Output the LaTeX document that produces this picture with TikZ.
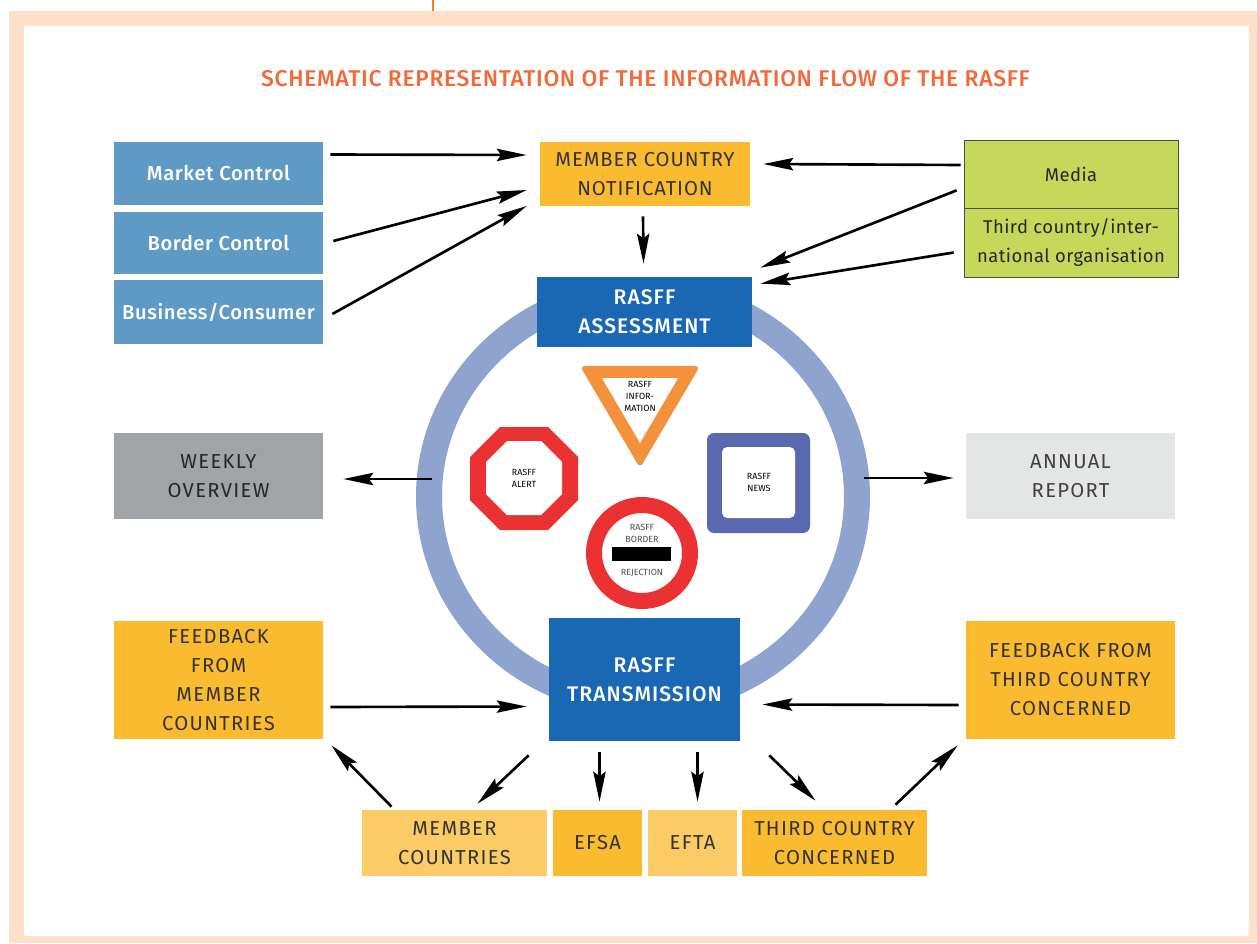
\documentclass[tikz,border=0pt]{standalone}
\usepackage{fontspec}
\setmainfont{Fira Sans}
\newfontfamily\capsfont[LetterSpace=6.5]{Fira Sans}
\newfontfamily\noticefont[LetterSpace=4.5]{Fira Sans}
\newfontfamily\whitefont[LetterSpace=5]{Fira Sans Medium}
\newfontfamily\blueboxfont[LetterSpace=2.8]{Fira Sans Medium}
\newfontfamily\greenfont[LetterSpace=2.5]{Fira Sans}
\newfontfamily\headfont[LetterSpace=2.9]{Fira Sans Medium}
\usetikzlibrary{arrows.meta}
\definecolor{framepeach}{HTML}{FDE0CA}
\definecolor{titleorange}{HTML}{F26A3A}
\definecolor{ticker}{HTML}{F08030}
\definecolor{steelblue}{HTML}{5F9AC4}
\definecolor{deepblue}{HTML}{1A67B3}
\definecolor{ringblue}{HTML}{8FA3CF}
\definecolor{amber}{HTML}{FBBB30}
\definecolor{paleamber}{HTML}{FBCB66}
\definecolor{leaf}{HTML}{C6D85A}
\definecolor{midgrey}{HTML}{A1A4A7}
\definecolor{palegrey}{HTML}{E4E6E6}
\definecolor{signred}{HTML}{EB3233}
\definecolor{signorange}{HTML}{F4923B}
\definecolor{signblue}{HTML}{5A68B0}
\tikzset{
  infobox/.style = {
    rectangle,
    inner sep=0pt,
    align=center,
    font={\capsfont\fontsize{11.5}{16.5}\selectfont}
  },
  bluebox/.style = {
    infobox,
    fill=steelblue,
    text=white,
    font={\blueboxfont\fontsize{11.5}{16.5}\selectfont}
  },
  mainbox/.style = {
    infobox,
    fill=deepblue,
    text=white,
    font={\whitefont\fontsize{12}{16.5}\selectfont}
  },
  amberbox/.style = {
    infobox,
    fill=amber,
    text=black!80
  },
  paleamberbox/.style = {
    infobox,
    fill=paleamber,
    text=black!80
  },
  greenbox/.style = {
    infobox,
    fill=leaf,
    draw=black!70,
    line width=0.4pt,
    text=black!85,
    font={\greenfont\fontsize{10.5}{16.5}\selectfont}
  },
  signtext/.style = {
    inner sep=0pt,
    align=center,
    font={\fontsize{5.1}{6.8}\selectfont}
  },
  flow/.style = {
    line width=1.5pt,
    -{Stealth[length=17pt,width=7pt,inset=2.5pt]}
  }
}
\newcommand{\infonode}[7]{%
  \node[#2,minimum width=#5*0.02cm-#3*0.02cm,minimum height=#6*0.02cm-#4*0.02cm]
    (#1) at ({(#3+#5)/2},{(#4+#6)/2}) {#7};
}

\begin{document}
\begin{tikzpicture}[x=0.02cm,y=-0.02cm]

  \useasboundingbox (0,0) rectangle (1257,943);

  % frame
  \fill[framepeach] (9,11) rectangle (1257,943);
  \fill[white] (24,26) rectangle (1249,936);
  \draw[ticker,line width=1pt] (433,0) -- (433,11);

  \node[inner sep=0pt,text=titleorange,font={\headfont\fontsize{13}{15}\selectfont}] (title) at (645.5,79)
    {SCHEMATIC REPRESENTATION OF THE INFORMATION FLOW OF THE RASFF};

  % ring
  \fill[ringblue,even odd rule] (643,496.5) ellipse [x radius=227,y radius=219]
    (643,496.5) ellipse [x radius=201,y radius=193];

  % left and top boxes
  \infonode{market}{bluebox}{114}{142}{323}{205}{Market Control}
  \infonode{border}{bluebox}{114}{212}{323}{274}{Border Control}
  \infonode{business}{bluebox}{114}{280}{323}{344}{Business/Consumer}
  \infonode{notification}{amberbox,font={\noticefont\fontsize{11.5}{16.5}\selectfont}}{540}{142}{750}{206}{MEMBER COUNTRY\\NOTIFICATION}
  \infonode{media}{greenbox}{964}{140}{1178}{208}{Media}
  \infonode{thirdorg}{greenbox}{964}{208}{1178}{277}{Third country/inter-\\national organisation}
  \infonode{assessment}{mainbox}{537}{277}{752}{347}{RASFF\\ASSESSMENT}

  % middle row
  \infonode{weekly}{infobox,fill=midgrey,text=black!85}{114}{433}{323}{519}{WEEKLY\\OVERVIEW}
  \infonode{annual}{infobox,fill=palegrey,text=black!75}{966}{433}{1175}{519}{ANNUAL\\REPORT}

  % lower boxes
  \infonode{feedbackmember}{amberbox}{114}{621}{323}{739}{FEEDBACK\\FROM\\MEMBER\\COUNTRIES}
  \infonode{feedbackthird}{amberbox}{966}{621}{1175}{739}{FEEDBACK FROM\\THIRD COUNTRY\\CONCERNED}
  \infonode{transmission}{mainbox}{549}{618}{740}{741}{RASFF\\TRANSMISSION}
  \infonode{members}{paleamberbox}{362}{810}{547}{876}{MEMBER\\COUNTRIES}
  \infonode{efsa}{amberbox}{553}{810}{642}{876}{EFSA}
  \infonode{efta}{paleamberbox}{648}{810}{737}{876}{EFTA}
  \infonode{thirdcountry}{amberbox}{742}{810}{927}{876}{THIRD COUNTRY\\CONCERNED}

  % signs
  \fill[signorange,rounded corners=3pt] (580,366) -- (700,366) -- (640,468) -- cycle;
  \fill[white] (602,378) -- (678,378) -- (640,443) -- cycle;
  \node[signtext] (information) at (640,396) {RASFF\\INFOR-\\MATION};

  \fill[signred] (500,427) -- (548,427) -- (578,457) -- (578,500) -- (548,530) -- (500,530) -- (470,500) -- (470,457) -- cycle;
  \fill[white] (507,441) -- (541,441) -- (562,462) -- (562,494) -- (541,515) -- (507,515) -- (486,494) -- (486,462) -- cycle;
  \node[signtext] (alert) at (524,478) {RASFF\\ALERT};

  \fill[signblue,rounded corners=4pt] (707,433) rectangle (810,533);
  \fill[white,rounded corners=3pt] (722,447) rectangle (795,518);
  \node[signtext] (news) at (759,482) {RASFF\\NEWS};

  \draw[signred,line width=0.02cm*16] (642,553) circle (48);
  \fill[black] (612,547) rectangle (671,561);
  \node[signtext,text=black!70] (borderrej) at (642,533) {RASFF\\BORDER};
  \node[signtext,text=black!70] (rejection) at (642,573) {REJECTION};

  % arrows
  \foreach \from/\fx/\fy/\to/\tx/\ty in {
    market.east/7/-19/notification.west/-13/-19,
    border.east/10/-2/notification.west/-13/16,
    business.east/9/2/notification.west/-13/32,
    media.west/-3/-9/notification.east/13/-10,
    media.south west/-7/-18/assessment.north east/8/-9,
    thirdorg.west/-10/10/assessment.north east/8/7,
    notification.south/-2/10/assessment.north/-1/-13,
    weekly.east/109/3/weekly.east/20/3,
    annual.west/-102/2/annual.west/-12/2,
    feedbackmember.east/7/27/transmission.west/-22/27,
    feedbackthird.west/-7/25/transmission.east/22/25,
    members.north/-63/-3/feedbackmember.south east/8/6,
    transmission.south west/-20/14/members.north/23/-6,
    transmission.south/-45/11/efsa.north/2/-8,
    transmission.south/53/11/efta.north/5/-8,
    transmission.south east/29/14/thirdcountry.north/-19/-9,
    thirdcountry.north/61/-5/feedbackthird.south west/-8/6
  } {
    \draw[flow] ([shift={(\fx,\fy)}]\from) -- ([shift={(\tx,\ty)}]\to);
  }

\end{tikzpicture}
\end{document}
